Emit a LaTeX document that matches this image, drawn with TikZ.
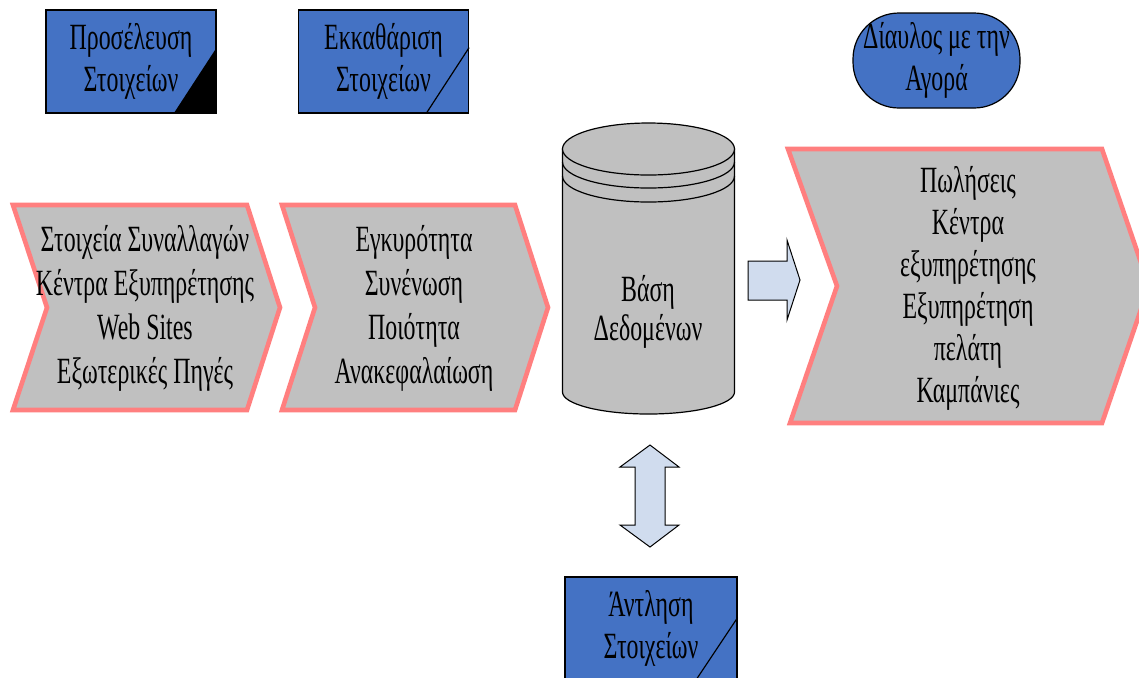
\documentclass[tikz,border=0pt]{standalone}
\usepackage{fontspec}
\setmainfont{Liberation Serif}[FakeStretch=0.645]
\usetikzlibrary{positioning}

\definecolor{boxblue}{HTML}{4472C4}
\definecolor{chevpink}{HTML}{FF7F7F}
\definecolor{chevgrey}{HTML}{C0C0C0}
\definecolor{arrowblue}{HTML}{D0DCEE}

\tikzset{
  bluebox/.style={draw=black, fill=boxblue, line width=0.6pt, minimum width=85pt, minimum height=51.5pt},
  chevron/.style={draw=chevpink, fill=chevgrey, line width=2.3pt, line join=miter},
  blockarrow/.style={draw=black, fill=arrowblue, line width=0.5pt, line join=miter},
  lbl/.style={align=center, inner sep=0pt, font=\fontsize{18.5}{21}\selectfont},
}

\begin{document}
\begin{tikzpicture}[x=0.5pt, y=-0.5pt]

\useasboundingbox (0,0) rectangle (1139,677);
\clip (0,0) rectangle (1139,677);
\fill[white] (0,0) rectangle (1139,677);

% Top row of boxes
\node (prosel) at (131,61.5) [bluebox, lbl] {Προσέλευση\\Στοιχείων};
\fill[black] (prosel.south east) -- ([yshift=33pt]prosel.south east) -- ([xshift=-21.5pt]prosel.south east) -- cycle;

\node (ekkath) at (383.5,61.5) [bluebox, lbl] {Εκκαθάριση\\Στοιχείων};
\draw[line width=0.6pt] ([yshift=33pt]ekkath.south east) -- ([xshift=-21.5pt]ekkath.south east);

\node (diavlos) at (936.5,60.5) [bluebox, lbl, minimum width=83.5pt, minimum height=47.5pt, rounded corners=23pt] {Δίαυλος με την\\Αγορά};

% Chevrons
\draw[chevron] (13,205) -- (247,205) -- (280,307.5) -- (247,410) -- (13,410) -- (47,307.5) -- cycle;
\node (sources) at (145,308) [lbl, font=\fontsize{18.5}{22}\selectfont] {Στοιχεία Συναλλαγών\\Κέντρα Εξυπηρέτησης\\Web Sites\\Εξωτερικές Πηγές};

\draw[chevron] (282,205) -- (515,205) -- (548,307.5) -- (515,410) -- (282,410) -- (315,307.5) -- cycle;
\node (clean) at (414,308) [lbl, font=\fontsize{18.5}{22}\selectfont] {Εγκυρότητα\\Συνένωση\\Ποιότητα\\Ανακεφαλαίωση};

\draw[chevron] (788,149) -- (1102,149) -- (1149,286) -- (1102,423) -- (790,423) -- (837,286) -- cycle;
\node (market) at (968,288) [lbl] {Πωλήσεις\\Κέντρα\\εξυπηρέτησης\\Εξυπηρέτηση\\πελάτη\\Καμπάνιες};

% Database
\filldraw[fill=chevgrey, draw=black, line width=0.6pt] (562.5,149) -- (562.5,392) arc[start angle=180, end angle=0, x radius=86, y radius=22] -- (734.5,149) -- cycle;
\filldraw[fill=chevgrey, draw=black, line width=0.6pt] (648.5,149) ellipse[x radius=86, y radius=26];
\draw[line width=0.6pt] (562.5,162) arc[start angle=180, end angle=0, x radius=86, y radius=26];
\draw[line width=0.6pt] (562.5,176) arc[start angle=180, end angle=0, x radius=86, y radius=26];
\node (db) at (648,312) [lbl, font=\fontsize{18.5}{19.5}\selectfont] {Βάση\\Δεδομένων};

% Bottom box
\node (antl) at (651,628.5) [bluebox, lbl, minimum width=86pt] {Άντληση\\Στοιχείων};
\draw[line width=0.6pt] ([yshift=31.5pt]antl.south east) -- ([xshift=-21pt]antl.south east);

% Block arrows
\draw[blockarrow] (748,261) -- (787,261) -- (787,240) -- (800,280) -- (787,320) -- (787,300) -- (748,300) -- cycle;
\draw[blockarrow] (650,445) -- (679,467) -- (665,467) -- (665,525) -- (679,525) -- (650,547) -- (620,525) -- (635,525) -- (635,467) -- (620,467) -- cycle;

\end{tikzpicture}
\end{document}
